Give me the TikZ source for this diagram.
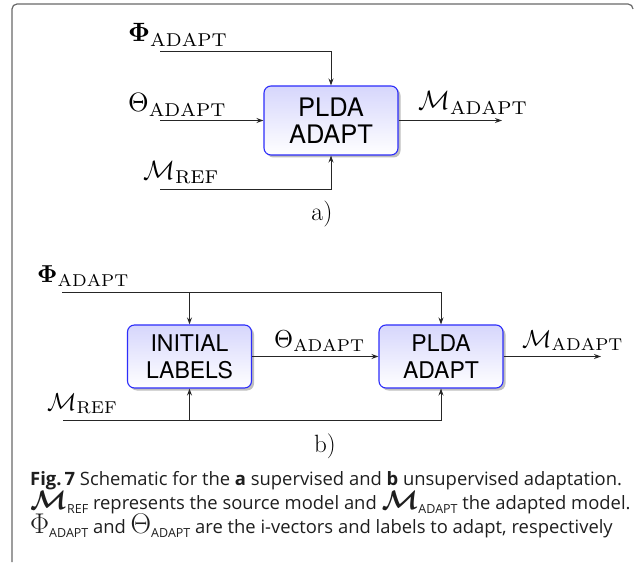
\documentclass[tikz,border=0pt]{standalone}
\usepackage{amsmath}
\usepackage{fontspec}
\newfontfamily\capfont{Open Sans}
\newfontfamily\boxfont{TeX Gyre Heros}
\usetikzlibrary{arrows.meta,shadows}
\definecolor{framegray}{RGB}{105,105,105}
\definecolor{boxblue}{RGB}{45,45,250}
\definecolor{boxtop}{RGB}{214,214,252}
\definecolor{captext}{RGB}{30,30,30}
\newcommand\mlab[2]{\scalebox{#1}{$#2$}}
\newcommand\rsub[1]{_{\mathrm{#1}}}
\newcommand\capsub[1]{\raisebox{-0.22em}{\fontsize{12.5}{12.5}\selectfont #1}}
\begin{document}
\begin{tikzpicture}[x=1pt,y=-1pt,
  blk/.style={draw=boxblue, line width=1.1pt, rounded corners=7pt,
    top color=boxtop, bottom color=white,
    drop shadow={shadow xshift=2.5pt,shadow yshift=-2.5pt,opacity=0.25,fill=black},
    align=center, inner sep=0pt},
  blkA/.style={blk, minimum width=134pt, minimum height=69pt,
    font=\boxfont\fontsize{25.5}{27}\selectfont},
  blkB/.style={blk, minimum width=124pt, minimum height=63pt,
    font=\boxfont\fontsize{23}{27}\selectfont},
  wire/.style={draw=black!85, line width=1pt},
  arr/.style={wire, -{Stealth[length=7pt,width=5pt]}},
  lab/.style={anchor=base west, inner sep=0pt},
  captxt/.style={anchor=base west, inner sep=0pt, text=captext,
    font=\capfont\fontsize{18.4}{24}\selectfont},
]
\useasboundingbox (0,0) rectangle (635,564);
% frame
\draw[framegray, line width=1.2pt, rounded corners=5pt] (12,562) |- (633,4) -- (633,9);

% ---------- a) ----------
\node[blkA] (pa) at (331,120.5) {PLDA\\ADAPT};
\coordinate (phiA) at (160,52);
\coordinate (thA) at (160,120.5);
\coordinate (mrA) at (160,190);
\coordinate (maA) at (502,120.5);
\draw[arr] (phiA) -| (pa.north);
\draw[arr] (thA) -- (pa.west);
\draw[arr] (mrA) -| (pa.south);
\draw[arr] (pa.east) -- (maA);
\node[lab] (lphiA) at (128,42) {\mlab{2.65}{\boldsymbol{\Phi}\rsub{ADAPT}}};
\node[lab] (lthA) at (128,112) {\mlab{2.65}{\Theta\rsub{ADAPT}}};
\node[lab] (lmrA) at (143,180) {\mlab{2.65}{\mathcal{M}\rsub{REF}}};
\node[lab] (lmaA) at (418,110) {\mlab{2.65}{\mathcal{M}\rsub{ADAPT}}};
\node[inner sep=0pt] (capa) at (322,214) {\fontsize{26}{26}\selectfont a)};

% ---------- b) ----------
\node[blkB] (il) at (189.5,356.5) {INITIAL\\LABELS};
\node[blkB] (pb) at (441,356.5) {PLDA\\ADAPT};
\coordinate (phiB) at (62,293);
\coordinate (jphi) at (phiB -| il.north);
\coordinate (mrB) at (63,420);
\coordinate (jmr) at (mrB -| il.south);
\coordinate (maB) at (601,356.5);
\draw[arr] (phiB) -| (pb.north);
\draw[arr] (jphi) -- (il.north);
\draw[arr] (mrB) -| (pb.south);
\draw[arr] (jmr) -- (il.south);
\draw[arr] (il.east) -- (pb.west);
\draw[arr] (pb.east) -- (maB);
\node[lab] (lphiB) at (37,283) {\mlab{2.45}{\boldsymbol{\Phi}\rsub{ADAPT}}};
\node[lab] (lthB) at (274,348) {\mlab{2.45}{\Theta\rsub{ADAPT}}};
\node[lab] (lmrB) at (47,410) {\mlab{2.45}{\mathcal{M}\rsub{REF}}};
\node[lab] (lmaB) at (522,347) {\mlab{2.45}{\mathcal{M}\rsub{ADAPT}}};
\node[inner sep=0pt] (capb) at (325,446) {\fontsize{25}{25}\selectfont b)};

% ---------- caption ----------
\node[captxt] (c1) at (30,485) {\textbf{Fig.\,7} Schematic for the \textbf{a} supervised and \textbf{b} unsupervised adaptation.};
\node[captxt] (c2) at (30,509) {\mlab{1.55}{\boldsymbol{\mathcal{M}}}\capsub{REF} represents the source model and \mlab{1.55}{\boldsymbol{\mathcal{M}}}\capsub{ADAPT} the adapted model.};
\node[captxt] (c3) at (30,533) {\mlab{1.65}{\Phi}\capsub{ADAPT} and \mlab{1.65}{\Theta}\capsub{ADAPT} are the i-vectors and labels to adapt, respectively};
\end{tikzpicture}
\end{document}
